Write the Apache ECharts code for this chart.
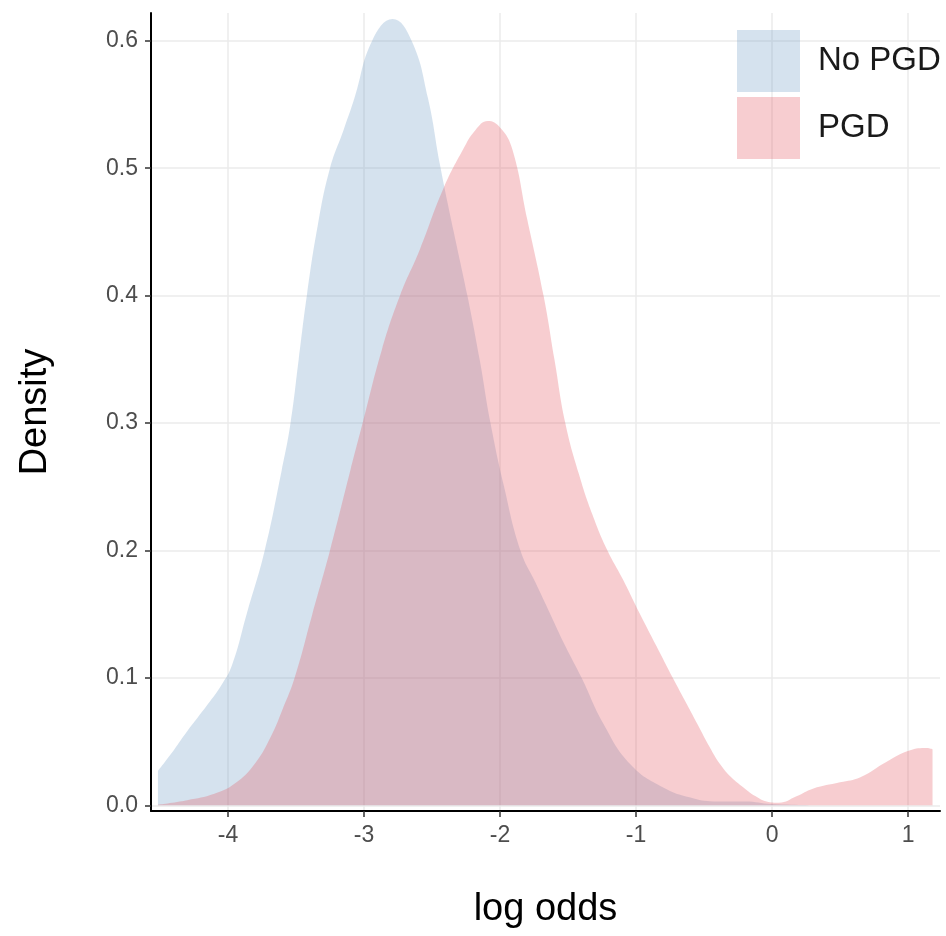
<!DOCTYPE html>
<html>
<head>
<meta charset="utf-8">
<title>log odds density</title>
<script src="https://cdn.jsdelivr.net/npm/echarts@6/dist/echarts.min.js"></script>
<style>
    html, body { margin: 0; padding: 0; background: #fff; }
    #main { width: 946px; height: 936px; }
</style>
</head>
<body>
<div id="main"></div>
<script>
// density curves (x = log odds, y = density)
const seriesNames = ['No PGD', 'PGD'];

const noPgdX = [-4.515, -4.40, -4.30, -4.15, -4.05, -3.97, -3.86, -3.73, -3.605, -3.54, -3.48, -3.42, -3.34, -3.25,
    -3.15, -3.07, -2.94, -2.79, -2.65, -2.53, -2.44, -2.34, -2.24, -2.15, -2.07, -1.97, -1.85, -1.74, -1.63, -1.52,
    -1.40, -1.24, -1.04, -0.80, -0.60, -0.43, -0.20, 0.00, 0.50, 1.18];
const noPgdY = [0.027, 0.043, 0.058, 0.079, 0.094, 0.110, 0.151, 0.200, 0.263, 0.300, 0.350, 0.400, 0.455, 0.500,
    0.530, 0.555, 0.600, 0.617, 0.600, 0.555, 0.502, 0.450, 0.400, 0.350, 0.300, 0.250, 0.200, 0.175, 0.150, 0.125,
    0.100, 0.064, 0.032, 0.014, 0.006, 0.003, 0.003, 0.001, 0.000, 0.000];

const pgdX = [-4.515, -4.30, -4.10, -3.95, -3.80, -3.68, -3.60, -3.51, -3.38, -3.25, -3.10, -3.01, -2.87, -2.735,
    -2.59, -2.42, -2.27, -2.18, -2.09, -2.00, -1.91, -1.80, -1.68, -1.60, -1.52, -1.42, -1.32, -1.21, -1.10, -0.97,
    -0.85, -0.73, -0.64, -0.55, -0.46, -0.38, -0.30, -0.21, -0.12, -0.04, 0.05, 0.18, 0.30, 0.50, 0.65, 0.84, 1.01,
    1.14, 1.18];
const pgdY = [0.0005, 0.004, 0.009, 0.017, 0.033, 0.055, 0.075, 0.100, 0.150, 0.200, 0.263, 0.300, 0.357, 0.400,
    0.436, 0.483, 0.515, 0.530, 0.537, 0.532, 0.515, 0.460, 0.400, 0.350, 0.300, 0.260, 0.228, 0.200, 0.178, 0.150,
    0.125, 0.100, 0.082, 0.064, 0.046, 0.032, 0.022, 0.014, 0.007, 0.003, 0.002, 0.007, 0.013, 0.018, 0.022, 0.034, 0.043,
    0.045, 0.044];

const xTicks = [-4, -3, -2, -1, 0, 1];
const yTicks = [0, 0.1, 0.2, 0.3, 0.4, 0.5, 0.6];

const fills = ['rgba(116, 160, 198, 0.30)', 'rgba(228, 90, 98, 0.30)'];
const font = '"Liberation Sans", Arial, Helvetica, sans-serif';

const toPairs = (xs, ys) => xs.map((x, i) => [x, ys[i]]);

const densitySeries = (name, data, color) => ({
    name: name,
    type: 'line',
    data: data,
    smooth: 0.45,
    showSymbol: false,
    symbol: 'none',
    itemStyle: { color: color },
    lineStyle: { width: 0, color: color },
    areaStyle: { color: color, opacity: 1 },
    silent: true
});

const chart = echarts.init(document.getElementById('main'));

const option = {
    animation: false,
    backgroundColor: '#fff',
    textStyle: { fontFamily: font },
    grid: { left: 151, right: 6, top: 13, bottom: 125, containLabel: false },
    legend: {
        orient: 'vertical',
        left: 737,
        top: 30,
        padding: 0,
        itemWidth: 63,
        itemHeight: 62,
        itemGap: 5,
        icon: 'rect',
        selectedMode: false,
        textStyle: { fontSize: 33, color: '#1a1a1a', fontFamily: font, padding: [0, 0, 0, 13] },
        data: [
            { name: seriesNames[0], itemStyle: { color: fills[0] } },
            { name: seriesNames[1], itemStyle: { color: fills[1] } }
        ]
    },
    xAxis: {
        type: 'value',
        min: -4.566,
        max: 1.235,
        name: 'log odds',
        nameLocation: 'middle',
        nameGap: 80,
        nameTextStyle: { fontSize: 38, color: '#000', fontFamily: font },
        axisLine: { show: true, onZero: false, lineStyle: { color: '#000', width: 2 } },
        axisTick: { show: true, length: 6, lineStyle: { color: '#333', width: 1.5 }, customValues: xTicks },
        axisLabel: {
            fontSize: 23, color: '#4d4d4d', margin: 13, customValues: xTicks,
            formatter: v => String(v)
        },
        splitLine: { show: true, lineStyle: { color: '#ebebeb', width: 1.5 } }
    },
    yAxis: {
        type: 'value',
        min: -0.0045,
        max: 0.6218,
        name: 'Density',
        nameLocation: 'middle',
        nameGap: 96,
        nameRotate: 90,
        nameTextStyle: { fontSize: 38, color: '#000', fontFamily: font },
        axisLine: { show: true, onZero: false, lineStyle: { color: '#000', width: 2 } },
        axisTick: { show: true, length: 6, lineStyle: { color: '#333', width: 1.5 }, customValues: yTicks },
        axisLabel: {
            fontSize: 23, color: '#4d4d4d', margin: 13, customValues: yTicks,
            formatter: v => v.toFixed(1)
        },
        splitLine: { show: true, lineStyle: { color: '#ebebeb', width: 1.5 } }
    },
    series: [
        densitySeries(seriesNames[0], toPairs(noPgdX, noPgdY), fills[0]),
        densitySeries(seriesNames[1], toPairs(pgdX, pgdY), fills[1])
    ]
};

chart.setOption(option);
</script>
</body>
</html>
